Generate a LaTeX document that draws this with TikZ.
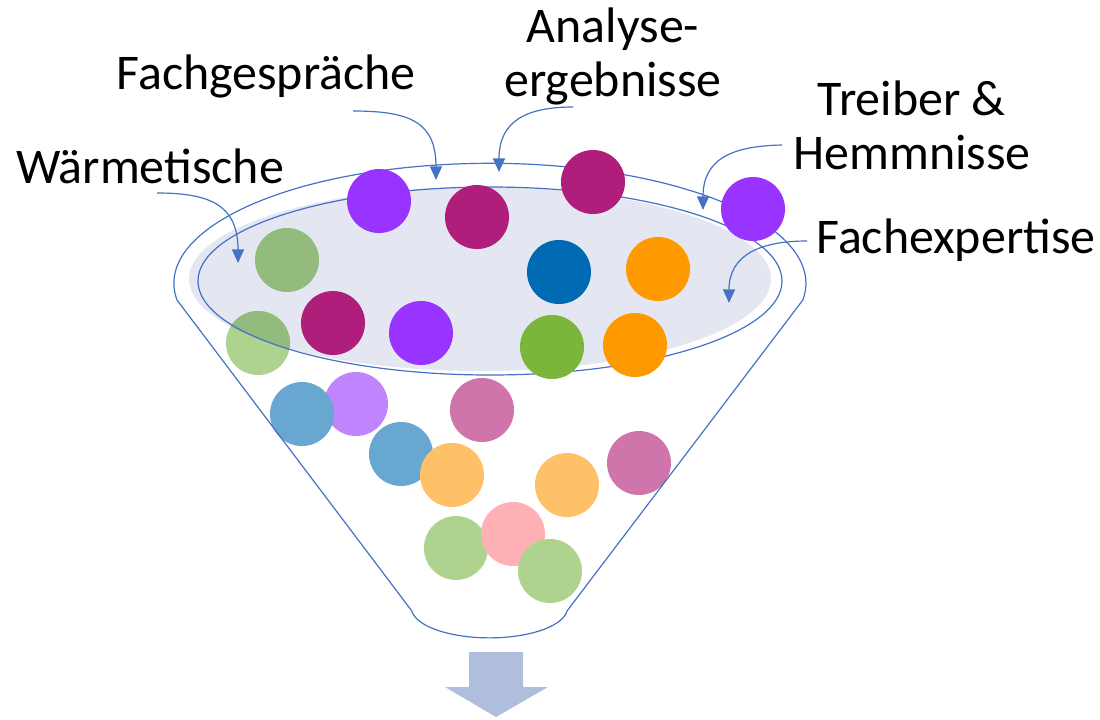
\documentclass[tikz,border=0pt]{standalone}
\usepackage{fontspec}
\setmainfont{Carlito}
\usetikzlibrary{arrows.meta}

\definecolor{lineblue}{RGB}{68,114,196}
\definecolor{cPurple}{RGB}{153,51,255}
\definecolor{cMagenta}{RGB}{176,30,124}
\definecolor{cBlue}{RGB}{0,106,178}
\definecolor{cOrange}{RGB}{255,153,0}
\definecolor{cGreen}{RGB}{122,181,60}
\definecolor{cGreenL}{RGB}{174,211,143}
\definecolor{cGreenM}{RGB}{147,187,125}
\definecolor{cBlueL}{RGB}{103,167,208}
\definecolor{cPurpleL}{RGB}{193,132,255}
\definecolor{cMagentaL}{RGB}{208,116,172}
\definecolor{cOrangeL}{RGB}{255,193,104}
\definecolor{cPink}{RGB}{255,176,180}
\definecolor{cShade}{RGB}{228,230,242}
\definecolor{cOut}{RGB}{176,190,222}

\begin{document}
\begin{tikzpicture}[x=0.025cm,y=-0.025cm,>={Triangle[length=0.34cm,width=0.3cm]},every node/.append style={align=center,font=\fontsize{35.5}{38}\selectfont},ball/.style={circle,inner sep=0pt,minimum size=1.6cm},lbl/.style={anchor=base,inner sep=0pt},feed/.style={->,draw=lineblue,line width=0.03cm},rim/.style={draw=lineblue,line width=0.03cm}]
    \useasboundingbox (0,0) rectangle (1100,719);

    % shaded mouth of the funnel
    \fill[cShade] (480,279) ellipse [x radius=291, y radius=92];
    \node [ball, fill=cGreenM] (g5) at (287,260) {};
    \node [ball, fill=cGreenL] (g8) at (258,343) {};
    \begin{scope}
        \clip (480,279) ellipse [x radius=291, y radius=92];
        \fill[cGreenM] (g8.center) circle (32);
    \end{scope}

    % lower, paler balls
    \node [ball, fill=cPurpleL] (l14) at (356,404) {};
    \node [ball, fill=cBlueL] (l13) at (302,414) {};
    \node [ball, fill=cMagentaL] (l15) at (482,410) {};
    \node [ball, fill=cBlueL] (l16) at (401,454) {};
    \node [ball, fill=cOrangeL] (l17) at (452,475) {};
    \node [ball, fill=cOrangeL] (l18) at (567,485) {};
    \node [ball, fill=cMagentaL] (l19) at (639,463) {};
    \node [ball, fill=cGreenL] (l20) at (456,548) {};
    \node [ball, fill=cPink] (l21) at (513,534) {};
    \node [ball, fill=cGreenL] (l22) at (550,571) {};

    % funnel
    \draw[rim] (177,300) arc [start angle=172, end angle=368, x radius=316, y radius=120] -- (567,611)
        arc [start angle=6, end angle=174, x radius=78, y radius=30] -- cycle;
    \draw[rim] (490,281) ellipse [x radius=292, y radius=94];

    % upper balls
    \node [ball, fill=cPurple] (t1) at (379,201) {};
    \node [ball, fill=cMagenta] (t2) at (477,217) {};
    \node [ball, fill=cMagenta] (t3) at (593,182) {};
    \node [ball, fill=cPurple] (t4) at (753,209) {};
    \node [ball, fill=cBlue] (t6) at (559,272) {};
    \node [ball, fill=cOrange] (t7) at (658,269) {};
    \node [ball, fill=cMagenta] (t9) at (333,323) {};
    \node [ball, fill=cPurple] (t10) at (421,333) {};
    \node [ball, fill=cGreen] (t11) at (552,347) {};
    \node [ball, fill=cOrange] (t12) at (635,345) {};

    % sources
    \node [lbl] (waerme) at (150,183) {Wärmetische};
    \node [lbl] (gespr) at (266,89) {Fachgespräche};
    \node [lbl] (analyse) at (613,96) {Analyse-\\ergebnisse};
    \node [lbl] (treiber) at (912,169) {Treiber \&\\Hemmnisse};
    \node [lbl] (expert) at (956,253) {Fachexpertise};

    \coordinate (w0) at (157,193);
    \coordinate (w1) at (238,263);
    \coordinate (f0) at (353,111);
    \coordinate (f1) at (436,180);
    \coordinate (a0) at (573,107);
    \coordinate (a1) at (499,172);
    \coordinate (tr0) at (782,145);
    \coordinate (tr1) at (703,210);
    \coordinate (e0) at (807,241);
    \coordinate (e1) at (729,303);

    \draw[feed] (w0) .. controls (210,193) and (238,205) .. (w1);
    \draw[feed] (f0) .. controls (410,111) and (436,122) .. (f1);
    \draw[feed] (a0) .. controls (525,107) and (499,122) .. (a1);
    \draw[feed] (tr0) .. controls (730,146) and (703,160) .. (tr1);
    \draw[feed] (e0) .. controls (760,241) and (729,255) .. (e1);

    % output arrow
    \fill[cOut] (469,652) -- (523,652) -- (523,687) -- (548,687) -- (496,717) -- (445,687) -- (469,687) -- cycle;
\end{tikzpicture}
\end{document}
